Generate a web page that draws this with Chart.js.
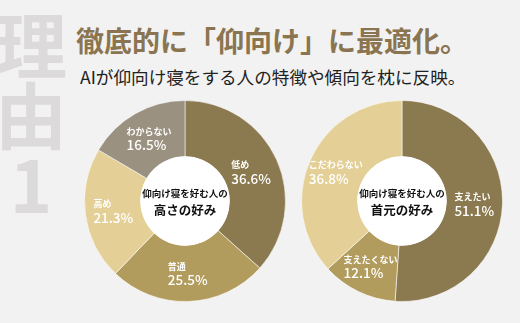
<!DOCTYPE html>
<html>
<head>
<meta charset="utf-8">
<script src="https://cdn.jsdelivr.net/npm/chart.js@4.4.1/dist/chart.umd.min.js"></script>
<style>
  html, body { margin: 0; padding: 0; }
  body {
    width: 520px; height: 323px; overflow: hidden; position: relative;
    background: #f3f2f2;
    font-family: "Noto Sans CJK JP", "Noto Sans", sans-serif;
  }
  #side {
    position: absolute; left: -7px; top: 7px; width: 76px;
    font-size: 72px; line-height: 70px; font-weight: 700;
    color: #dcdada; text-align: center;
  }
  #title {
    position: absolute; left: 76px; top: 22px;
    font-size: 28px; line-height: 36px; font-weight: 700; color: #8a7550;
    white-space: nowrap;
  }
  #subtitle {
    position: absolute; left: 80px; top: 65px;
    font-size: 17.6px; line-height: 24px; color: #222;
    white-space: nowrap;
  }
  .pie { position: absolute; }
  #chart1 { left: 83px; top: 99px; }
  #chart2 { left: 300px; top: 99px; }
</style>
</head>
<body>
<div id="side">理<br>由<br>1</div>
<div id="title">徹底的に「仰向け」に最適化。</div>
<div id="subtitle">AIが仰向け寝をする人の特徴や傾向を枕に反映。</div>
<canvas id="chart1" class="pie" width="204" height="204"></canvas>
<canvas id="chart2" class="pie" width="204" height="204"></canvas>
<script>
// Chart 1: preferred pillow height
const heightLabels = ['低め', '普通', '高め', 'わからない'];
const heightValues = [36.6, 25.5, 21.3, 16.5];
const heightColors = ['#8b7a4f', '#b29c5d', '#e4d096', '#9a9181'];
const heightCenter = ['仰向け寝を好む人の', '高さの好み'];

// Chart 2: neck support preference
const neckLabels = ['支えたい', '支えたくない', 'こだわらない'];
const neckValues = [51.1, 12.1, 36.8];
const neckColors = ['#8b7a4f', '#b29c5d', '#e4d096'];
const neckCenter = ['仰向け寝を好む人の', '首元の好み'];

const JP = '"Noto Sans CJK JP", sans-serif';

// white hole, centre caption and slice labels
const pieText = {
    id: 'pieText',
    afterDatasetsDraw(chart, args, opts) {
        const ctx = chart.ctx;
        const meta = chart.getDatasetMeta(0);
        const arc0 = meta.data[0];
        const cx = arc0.x, cy = arc0.y, r = arc0.innerRadius;

        ctx.save();
        ctx.beginPath();
        ctx.arc(cx, cy, r + 0.5, 0, Math.PI * 2);
        ctx.fillStyle = '#ffffff';
        ctx.fill();

        ctx.fillStyle = '#111';
        ctx.textAlign = 'center';
        ctx.textBaseline = 'middle';
        ctx.font = '700 9.5px ' + JP;
        ctx.fillText(opts.center[0], cx, cy - 8);
        ctx.font = '700 12.5px ' + JP;
        ctx.fillText(opts.center[1], cx, cy + 9);

        const labels = chart.data.labels;
        const values = chart.data.datasets[0].data;
        meta.data.forEach((arc, i) => {
            const p = arc.getCenterPoint();
            const name = labels[i];
            const pct = values[i].toFixed(1) + '%';
            ctx.font = '700 9px ' + JP;
            const w1 = ctx.measureText(name).width;
            ctx.font = '500 13.5px ' + JP;
            const w2 = ctx.measureText(pct).width;
            const left = p.x - Math.max(w1, w2) / 2;
            ctx.textAlign = 'left';
            ctx.fillStyle = '#ffffff';
            ctx.font = '700 9px ' + JP;
            ctx.fillText(name, left, p.y - 7);
            ctx.font = '500 13.5px ' + JP;
            ctx.fillText(pct, left, p.y + 7);
        });
        ctx.restore();
    }
};

function createDonut(canvasId, labels, data, colors, center) {
    const ctx = document.getElementById(canvasId).getContext('2d');
    new Chart(ctx, {
        type: 'doughnut',
        data: {
            labels,
            datasets: [{
                data,
                backgroundColor: colors,
                borderColor: 'rgba(255,255,255,0.55)',
                borderWidth: 1
            }]
        },
        options: {
            responsive: false,
            animation: false,
            cutout: '44%',
            layout: { padding: 1 },
            plugins: {
                legend: { display: false },
                tooltip: { enabled: false },
                pieText: { center }
            }
        },
        plugins: [pieText]
    });
}

createDonut('chart1', heightLabels, heightValues, heightColors, heightCenter);
createDonut('chart2', neckLabels, neckValues, neckColors, neckCenter);
</script>
</body>
</html>
